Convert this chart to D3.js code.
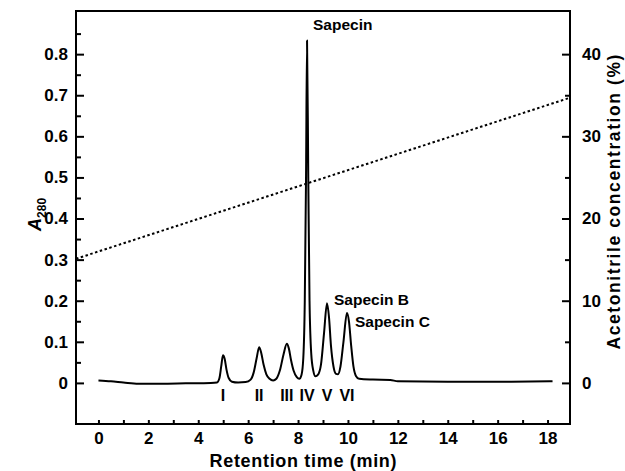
<!DOCTYPE html>
<html>
<head>
<meta charset="utf-8">
<script src="https://cdn.jsdelivr.net/npm/d3@7"></script>
<style>
  body { margin: 0; background: #fff; }
  svg { font-family: "Liberation Sans", Arial, sans-serif; font-weight: bold; }
</style>
</head>
<body>
<div class="chart"></div>
<script>
// chromatogram: retention time (min) and A280
const times = [0, 0.5, 1, 1.6, 2.5, 3.5, 4.5, 4.75, 4.85, 4.92, 4.99, 5.06, 5.13, 5.22, 5.35, 5.6, 5.9, 6.1, 6.22, 6.34, 6.44, 6.52, 6.62, 6.73, 6.86, 7.0, 7.13, 7.27, 7.42, 7.55, 7.63, 7.72, 7.82, 7.95, 8.05, 8.14, 8.21, 8.27, 8.32, 8.36, 8.41, 8.46, 8.53, 8.61, 8.7, 8.8, 8.92, 9.04, 9.16, 9.24, 9.32, 9.42, 9.52, 9.6, 9.7, 9.82, 9.96, 10.04, 10.13, 10.22, 10.32, 10.45, 11, 11.7, 12, 14, 16, 18.2];
const absorb = [0.006, 0.004, 0.001, -0.002, -0.002, -0.001, 0, 0.001, 0.012, 0.04, 0.067, 0.058, 0.033, 0.012, 0.003, 0.001, 0.002, 0.008, 0.025, 0.06, 0.087, 0.074, 0.044, 0.021, 0.01, 0.006, 0.01, 0.03, 0.07, 0.095, 0.084, 0.055, 0.03, 0.014, 0.01, 0.02, 0.06, 0.2, 0.5, 0.833, 0.5, 0.2, 0.07, 0.03, 0.016, 0.02, 0.045, 0.12, 0.194, 0.16, 0.09, 0.04, 0.022, 0.021, 0.04, 0.1, 0.17, 0.15, 0.09, 0.04, 0.017, 0.01, 0.008, 0.007, 0.004, 0.003, 0.003, 0.004];

// acetonitrile gradient (%)
const gradTimes = [-0.9, 18.9];
const gradConc = [15.1, 34.7];

// peak labels
const peakNames = ["I", "II", "III", "IV", "V", "VI"];
const peakTimes = [4.99, 6.44, 7.55, 8.36, 9.16, 9.96];
const namedPeaks = ["Sapecin", "Sapecin B", "Sapecin C"];
const namedTimes = [8.36, 9.16, 9.96];
const namedHeights = [0.833, 0.194, 0.17];

const xTicks = d3.range(0, 19, 2);
const yTicks = d3.range(0, 0.81, 0.1);
const rTicks = [0, 10, 20, 30, 40];

const width = 625, height = 471;
const margin = {top: 11, right: 55, bottom: 47, left: 76};

const svg = d3.select(".chart")
    .append("svg")
    .attr("width", width)
    .attr("height", height)
    .attr("viewBox", [0, 0, width, height]);

const xScale = d3.scaleLinear()
    .domain([-0.9, 18.9])
    .range([margin.left, width - margin.right]);
const yScale = d3.scaleLinear()
    .domain([-0.1, 0.905])
    .range([height - margin.bottom, margin.top]);
// right axis: 0.8 A280 lines up with 40 %
const rScale = d3.scaleLinear()
    .domain(yScale.domain().map(d => d * 50))
    .range(yScale.range());

// minor ticks first, no labels
svg.append("g")
    .attr("transform", `translate(0,${height - margin.bottom})`)
    .call(d3.axisBottom(xScale).tickValues(d3.range(1, 19, 2)).tickSize(-4).tickFormat(""))
    .call(g => g.select(".domain").remove());
svg.append("g")
    .attr("transform", `translate(${margin.left},0)`)
    .call(d3.axisLeft(yScale).tickValues(d3.range(0.05, 0.9, 0.1)).tickSize(-5).tickFormat(""))
    .call(g => g.select(".domain").remove());
svg.append("g")
    .attr("transform", `translate(${width - margin.right},0)`)
    .call(d3.axisRight(rScale).tickValues([5, 15, 25, 35]).tickSize(-5).tickFormat(""))
    .call(g => g.select(".domain").remove());

const xAxis = g => g
    .attr("transform", `translate(0,${height - margin.bottom})`)
    .call(d3.axisBottom(xScale).tickValues(xTicks).tickSize(-4).tickPadding(8))
    .call(g => g.select(".domain").remove());
const yAxis = g => g
    .attr("transform", `translate(${margin.left},0)`)
    .call(d3.axisLeft(yScale).tickValues(yTicks).tickSize(-8).tickPadding(8)
        .tickFormat(d => d === 0 ? "0" : d3.format(".1f")(d)))
    .call(g => g.select(".domain").remove());
const rAxis = g => g
    .attr("transform", `translate(${width - margin.right},0)`)
    .call(d3.axisRight(rScale).tickValues(rTicks).tickSize(-8).tickPadding(12))
    .call(g => g.select(".domain").remove());

svg.append("g").call(xAxis);
svg.append("g").call(yAxis);
svg.append("g").call(rAxis);

svg.selectAll(".tick line")
    .attr("stroke", "black")
    .attr("stroke-width", 2);
svg.selectAll(".tick text")
    .attr("fill", "black")
    .attr("font-size", 17)
    .attr("font-weight", "bold")
    .attr("font-family", "Liberation Sans, Arial, sans-serif");

// frame
svg.append("rect")
    .attr("x", margin.left)
    .attr("y", margin.top)
    .attr("width", width - margin.left - margin.right)
    .attr("height", height - margin.top - margin.bottom)
    .attr("fill", "none")
    .attr("stroke", "black")
    .attr("stroke-width", 2);

// gradient
const gradLine = d3.line()
    .x((d, i) => xScale(gradTimes[i]))
    .y(d => rScale(d));
svg.append("path")
    .datum(gradConc)
    .attr("fill", "none")
    .attr("stroke", "black")
    .attr("stroke-width", 2)
    .attr("stroke-dasharray", "2.5,2.5")
    .attr("d", gradLine);

// chromatogram
const line = d3.line()
    .curve(d3.curveMonotoneX)
    .x((d, i) => xScale(times[i]))
    .y(d => yScale(d));
svg.append("path")
    .datum(absorb)
    .attr("fill", "none")
    .attr("stroke", "black")
    .attr("stroke-width", 2)
    .attr("stroke-linejoin", "round")
    .attr("d", line);

// roman numerals under peaks
svg.append("g")
    .attr("font-size", 16)
    .attr("text-anchor", "middle")
  .selectAll("text")
  .data(peakNames)
  .join("text")
    .attr("x", (d, i) => xScale(peakTimes[i]))
    .attr("y", yScale(0) + 18)
    .text(d => d);

// named peaks
const nameDx = [6, 7, 8];
const nameDy = [-16, -4, 9];
svg.append("g")
    .attr("font-size", 15.5)
  .selectAll("text")
  .data(namedPeaks)
  .join("text")
    .attr("x", (d, i) => xScale(namedTimes[i]) + nameDx[i])
    .attr("y", (d, i) => yScale(namedHeights[i]) + nameDy[i])
    .attr("dy", "0.35em")
    .text(d => d);

// axis titles
svg.append("text")
    .attr("x", xScale(8.2))
    .attr("y", height - 4)
    .attr("text-anchor", "middle")
    .attr("font-size", 18)
    .attr("textLength", 187)
    .attr("lengthAdjust", "spacing")
    .text("Retention time (min)");

const yTitle = svg.append("text")
    .attr("transform", `translate(41,${yScale(0.41)}) rotate(-90)`)
    .attr("text-anchor", "middle")
    .attr("font-size", 18);
yTitle.append("tspan").attr("font-style", "italic").text("A");
yTitle.append("tspan").attr("font-size", 12).attr("dy", 5).text("280");

svg.append("text")
    .attr("transform", `translate(620,${rScale(22)}) rotate(-90)`)
    .attr("text-anchor", "middle")
    .attr("font-size", 17.5)
    .attr("textLength", 295)
    .attr("lengthAdjust", "spacing")
    .text("Acetonitrile concentration (%)");
</script>
</body>
</html>
